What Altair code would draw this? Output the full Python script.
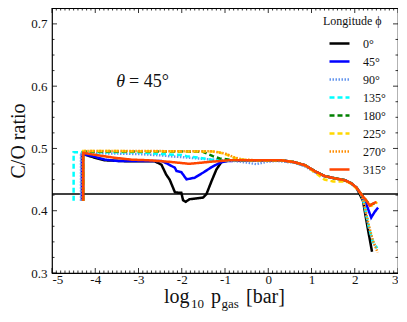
import altair as alt
import pandas as pd

# ---------------- data ----------------
labels = ["0°", "45°", "90°", "135°", "180°", "225°", "270°", "315°"]
colors = ["#000000", "#0000ff", "#6495ED", "#00FFFF", "#008000", "#FFD700", "#FF8C00", "#FF4500"]
dashes = [[1, 0], [1, 0], [1.5, 1.5], [5, 3], [5, 3], [5, 3], [1.5, 1.5], [1, 0]]
widths = [2.5, 2.5, 2.0, 2.5, 2.5, 2.5, 2.0, 3.0]

tail_x = [0.3, 0.6, 0.85, 1.07, 1.3, 1.54, 1.77, 1.92, 2.04, 2.15]
tail_y = [0.481, 0.478, 0.473, 0.4637, 0.4557, 0.452, 0.449, 0.444, 0.437, 0.4265]

x0 = [-4.28, -4.28, -4.01, -3.78, -3.3, -2.63, -2.47, -2.36, -2.28, -2.16, -2.09, -2.01, -1.97,
      -1.91, -1.82, -1.51, -1.43, -1.31, -1.20, -1.08, -0.97, -0.5, 0.0] + tail_x[:9] + [2.19, 2.30, 2.40]
y0 = [0.416, 0.491, 0.485, 0.481, 0.4795, 0.4795, 0.474, 0.458, 0.45, 0.43, 0.429, 0.429, 0.417,
      0.4143, 0.4185, 0.421, 0.4265, 0.4477, 0.466, 0.4785, 0.48, 0.481, 0.481] + tail_y[:9] + [0.416, 0.372, 0.334]

x45 = [-4.31, -4.31, -4.09, -3.78, -3.5, -2.47, -2.32, -2.16, -2.12, -2.01, -1.89, -1.70, -1.51,
       -1.31, -1.12, -0.97, -0.5, 0.0] + tail_x + [2.27, 2.38, 2.46, 2.54]
y45 = [0.416, 0.491, 0.488, 0.482, 0.48, 0.48, 0.475, 0.469, 0.4637, 0.462, 0.4504, 0.453, 0.461,
       0.470, 0.4769, 0.4796, 0.481, 0.481] + tail_y + [0.41, 0.389, 0.398, 0.405]

x90 = [-4.33, -4.33, -3.0, -2.5, -2.28, -1.82, -1.35, -0.97, -0.74, -0.51, -0.28, -0.04, 0.19,
       0.6, 0.85, 1.07, 1.3, 1.54, 1.77, 1.92, 2.04, 2.15, 2.22, 2.32, 2.42, 2.52]
y90 = [0.416, 0.493, 0.491, 0.489, 0.4876, 0.485, 0.4823, 0.4807, 0.4796, 0.4775, 0.4748, 0.4785, 0.480,
       0.477, 0.471, 0.462, 0.455, 0.452, 0.449, 0.444, 0.437, 0.4265, 0.41, 0.375, 0.35, 0.338]

x135 = [-4.5, -4.5, -3.0, -2.5, -2.0, -1.89, -1.59, -1.35, -1.05, -0.5, 0.0] + tail_x + [2.22, 2.32, 2.42, 2.52]
y135 = [0.416, 0.494, 0.494, 0.491, 0.4895, 0.4876, 0.485, 0.4823, 0.4807, 0.481, 0.481] + tail_y + [0.41, 0.375, 0.35, 0.34]

x180 = [-4.28, -4.28, -2.0, -1.51, -1.28, -1.12, -0.89, -0.5, 0.0] + tail_x + [2.27, 2.35, 2.42, 2.5]
y180 = [0.416, 0.495, 0.495, 0.4945, 0.4876, 0.484, 0.482, 0.481, 0.481] + tail_y + [0.416, 0.409, 0.411, 0.414]

x225 = [-4.28, -4.28, -1.2, -0.97, -0.81, -0.66, -0.4, 0.0, 0.3, 0.6, 0.85, 1.07, 1.3, 1.5, 1.7,
        1.85, 1.98, 2.1, 2.2, 2.3, 2.38, 2.45, 2.52]
y225 = [0.416, 0.496, 0.495, 0.4903, 0.486, 0.4823, 0.481, 0.481, 0.481, 0.478, 0.473, 0.462, 0.450, 0.447, 0.447,
        0.446, 0.440, 0.431, 0.422, 0.413, 0.408, 0.410, 0.414]

x270 = [-4.28, -4.28, -1.3, -1.0, -0.8, -0.6, -0.3, 0.0] + tail_x + [2.22, 2.32, 2.42, 2.53]
y270 = [0.416, 0.496, 0.4955, 0.492, 0.486, 0.4823, 0.481, 0.481] + tail_y + [0.41, 0.378, 0.352, 0.333]

x315 = [-4.28, -4.28, -3.94, -3.55, -3.16, -2.78, -2.28, -1.82, -1.35, -0.89, -0.5, 0.0] + tail_x + [2.27, 2.35, 2.42, 2.5]
y315 = [0.416, 0.4928, 0.489, 0.485, 0.482, 0.481, 0.4785, 0.4753, 0.4785, 0.481, 0.481, 0.481] + tail_y + [0.416, 0.408, 0.4115, 0.414]

series_x = [x0, x45, x90, x135, x180, x225, x270, x315]
series_y = [y0, y45, y90, y135, y180, y225, y270, y315]

solar_co = [0.427]
x_major = [-5, -4, -3, -2, -1, 0, 1, 2, 3]
y_major = [0.3, 0.4, 0.5, 0.6, 0.7]
x_minor = [round(-5 + 0.1 * i, 2) for i in range(81) if i % 10 != 0]
y_minor = [round(0.3 + 0.025 * i, 3) for i in range(18) if i % 4 != 0]

# ---------------- chart ----------------
W, H = 346, 265
FONT = "Liberation Serif, DejaVu Serif, serif"

rows = []
for lab, xs, ys in zip(labels, series_x, series_y):
    for i, (a, b) in enumerate(zip(xs, ys)):
        rows.append({"s": lab, "x": a, "y": b, "i": i})
df = pd.DataFrame(rows)

xscale = alt.Scale(domain=[-5, 3], nice=False, zero=False)
yscale = alt.Scale(domain=[0.3, 0.7255], nice=False, zero=False)
xaxis = alt.Axis(values=x_major, labelExpr="toString(datum.value)", ticks=False, domain=False, grid=False,
                 labelFont=FONT, labelFontSize=13, labelColor="#111", labelPadding=0, title=None)
yaxis = alt.Axis(values=y_major, format=".1f", ticks=False, domain=False, grid=False,
                 labelFont=FONT, labelFontSize=13, labelColor="#111", labelPadding=5,
                 title="C/O ratio", titleFont=FONT, titleFontSize=20, titleFontWeight="normal",
                 titleColor="#111", titlePadding=2)

leg_title = "Longitude ϕ"
color = alt.Color("s:N", scale=alt.Scale(domain=labels, range=colors), title=leg_title)
sdash = alt.StrokeDash("s:N", scale=alt.Scale(domain=labels, range=dashes), title=leg_title)
swidth = alt.StrokeWidth("s:N", scale=alt.Scale(domain=labels, range=widths), title=leg_title)

hline = alt.Chart(pd.DataFrame({"y": solar_co})).mark_rule(color="black", strokeWidth=1.5).encode(
    y=alt.Y("y:Q", scale=yscale, axis=yaxis))

layers = [hline]
for lab in labels:
    layers.append(
        alt.Chart(df).transform_filter(alt.datum.s == lab).mark_line().encode(
            x=alt.X("x:Q", scale=xscale, axis=xaxis),
            y=alt.Y("y:Q", scale=yscale, axis=yaxis),
            order="i:Q",
            color=color, strokeDash=sdash, strokeWidth=swidth,
        )
    )

def tick_layer(vals, axis, length):
    d = pd.DataFrame({"v": vals})
    base = alt.Chart(d).mark_rule(color="black", strokeWidth=0.8)
    out = []
    if axis == "x":
        out.append(base.encode(x=alt.X("v:Q", scale=xscale, axis=xaxis), y=alt.value(H), y2=alt.value(H - length)))
        out.append(base.encode(x=alt.X("v:Q", scale=xscale, axis=xaxis), y=alt.value(0), y2=alt.value(length)))
    else:
        out.append(base.encode(y=alt.Y("v:Q", scale=yscale, axis=yaxis), x=alt.value(0), x2=alt.value(length)))
        out.append(base.encode(y=alt.Y("v:Q", scale=yscale, axis=yaxis), x=alt.value(W), x2=alt.value(W - length)))
    return out

layers += tick_layer(x_major, "x", 5) + tick_layer(x_minor, "x", 2.5)
layers += tick_layer(y_major, "y", 5) + tick_layer(y_minor, "y", 2.5)

# theta annotation
ann = pd.DataFrame({"x": [-3.41, -3.22], "y": [0.607, 0.607], "t": ["θ", "= 45°"]})
layers.append(alt.Chart(ann.iloc[[0]]).mark_text(font=FONT, fontSize=18, fontStyle="italic", align="center",
                                                 baseline="middle", color="#111").encode(
    x=alt.X("x:Q", scale=xscale, axis=xaxis), y=alt.Y("y:Q", scale=yscale, axis=yaxis), text="t:N"))
layers.append(alt.Chart(ann.iloc[[1]]).mark_text(font=FONT, fontSize=18, align="left",
                                                 baseline="middle", color="#111").encode(
    x=alt.X("x:Q", scale=xscale, axis=xaxis), y=alt.Y("y:Q", scale=yscale, axis=yaxis), text="t:N"))

# x title pieces: log_10 p_gas [bar]
title_parts = [("log", 112, 295, 20), ("10", 139, 299.5, 13), ("p", 159, 295, 20), ("gas", 169.5, 299.5, 13),
               ("[bar]", 194, 295, 20)]
for txt, px, py, fs in title_parts:
    layers.append(alt.Chart(pd.DataFrame({"t": [txt]})).mark_text(
        font=FONT, fontSize=fs, align="left", baseline="alphabetic", color="#111").encode(
        x=alt.value(px), y=alt.value(py), text="t:N"))

chart = alt.layer(*layers).properties(
    width=W, height=H,
    autosize=alt.AutoSizeParams(type="none"),
    padding={"left": 44, "top": 0, "right": 0, "bottom": 40},
).configure_view(stroke="black", strokeWidth=1.2).configure_legend(
    orient="none", legendX=271, legendY=8, padding=0,
    titleFont=FONT, titleFontSize=12, titleFontWeight="normal", titleColor="#111", titlePadding=4,
    labelFont=FONT, labelFontSize=12, labelColor="#111", labelOffset=12,
    symbolType="stroke", symbolSize=400, symbolOffset=5, rowPadding=-3,
)

chart.save("out.html", embed_options={"renderer": "svg", "actions": False})
